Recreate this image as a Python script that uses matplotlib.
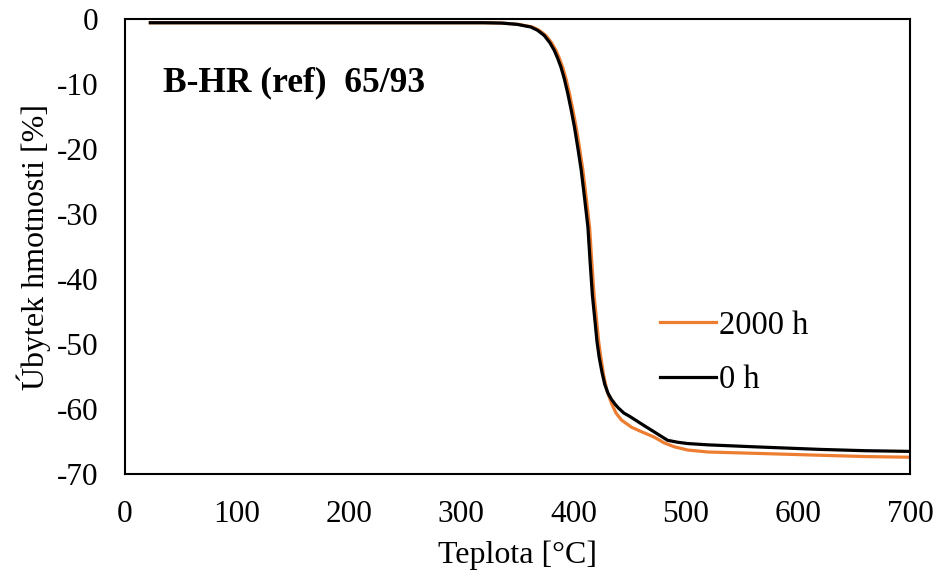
import numpy as np
import matplotlib
matplotlib.use("Agg")
import matplotlib.pyplot as plt

plt.rcParams['font.family'] = ['Liberation Serif', 'DejaVu Serif']
plt.rcParams['axes.unicode_minus'] = False

# teplota [°C] a úbytek hmotnosti [%]
T_0h = [23, 100, 200, 300, 320, 336, 350, 362, 368, 374, 379, 383, 386, 389, 392, 395,
        398, 401, 404, 407, 410, 413, 415, 417, 419.5, 421, 423, 425.5, 428, 431, 434, 437,
        440, 445, 451, 460, 472, 484, 493, 502, 520, 561, 620, 660, 698]
W_0h = [-0.55, -0.55, -0.55, -0.55, -0.55, -0.6, -0.8, -1.2, -1.7, -2.5, -3.6, -4.8, -6.0, -7.4, -9.2, -11.4,
        -13.9, -16.6, -19.8, -23.2, -27.5, -32.0, -37.5, -42.5, -46.8, -49.5, -52.0, -54.3, -56.2, -57.6, -58.5, -59.2,
        -59.8, -60.6, -61.2, -62.2, -63.5, -64.8, -65.1, -65.3, -65.5, -65.8, -66.2, -66.4, -66.5]

T_2000h = [23, 100, 200, 300, 320, 337, 351, 363.5, 369.5, 375.5, 380.5, 384.5, 387.5, 390.5, 393.5, 396.5,
           399.5, 402.5, 405.5, 408.5, 411.5, 414.5, 416.5, 418.5, 421, 422.5, 424.5, 427, 430, 434, 438,
           443, 452, 461, 472, 481, 490, 502, 520, 561, 620, 660, 698]
W_2000h = [-0.55, -0.55, -0.55, -0.55, -0.55, -0.6, -0.8, -1.2, -1.7, -2.5, -3.6, -4.8, -6.0, -7.4, -9.2, -11.4,
           -13.9, -16.6, -19.8, -23.2, -27.5, -32.0, -37.5, -42.5, -46.8, -49.5, -52.0, -54.8, -57.2, -59.1, -60.6,
           -61.7, -62.8, -63.5, -64.3, -65.2, -65.8, -66.3, -66.6, -66.8, -67.1, -67.3, -67.4]

fig = plt.figure(figsize=(9.4, 5.81), dpi=100)
ax = fig.add_axes([0.1325, 0.184, 0.8355, 0.783])

ax.plot(T_2000h, W_2000h, color="#ED7D31", linewidth=2.3, label="2000 h")
ax.plot(T_0h, W_0h, color="black", linewidth=2.3, label="0 h")

ax.set_xlim(0, 700)
ax.set_ylim(-70, 0)
ax.set_xticks(np.arange(0, 701, 100))
ax.set_yticks(np.arange(-70, 1, 10))
ax.tick_params(length=0, labelsize=22.5)
ax.tick_params(axis="x", pad=19)
ax.tick_params(axis="y", pad=19)
for s in ax.spines.values():
    s.set_linewidth(1.5)

ax.set_xlabel("Teplota [°C]", fontsize=23, labelpad=8)
ax.set_ylabel("Úbytek hmotnosti [%]", fontsize=23, labelpad=4)

ax.text(0.049, 0.86, "B-HR (ref)  65/93", transform=ax.transAxes, fontsize=25.5,
        fontweight="bold", va="center", ha="left")

ax.legend(loc="upper left", bbox_to_anchor=(0.682, 0.36), frameon=False, fontsize=23.5,
          handlelength=1.7, handletextpad=0.1, labelspacing=0.74, borderpad=0, borderaxespad=0)

fig.savefig("out.png", dpi=100)
